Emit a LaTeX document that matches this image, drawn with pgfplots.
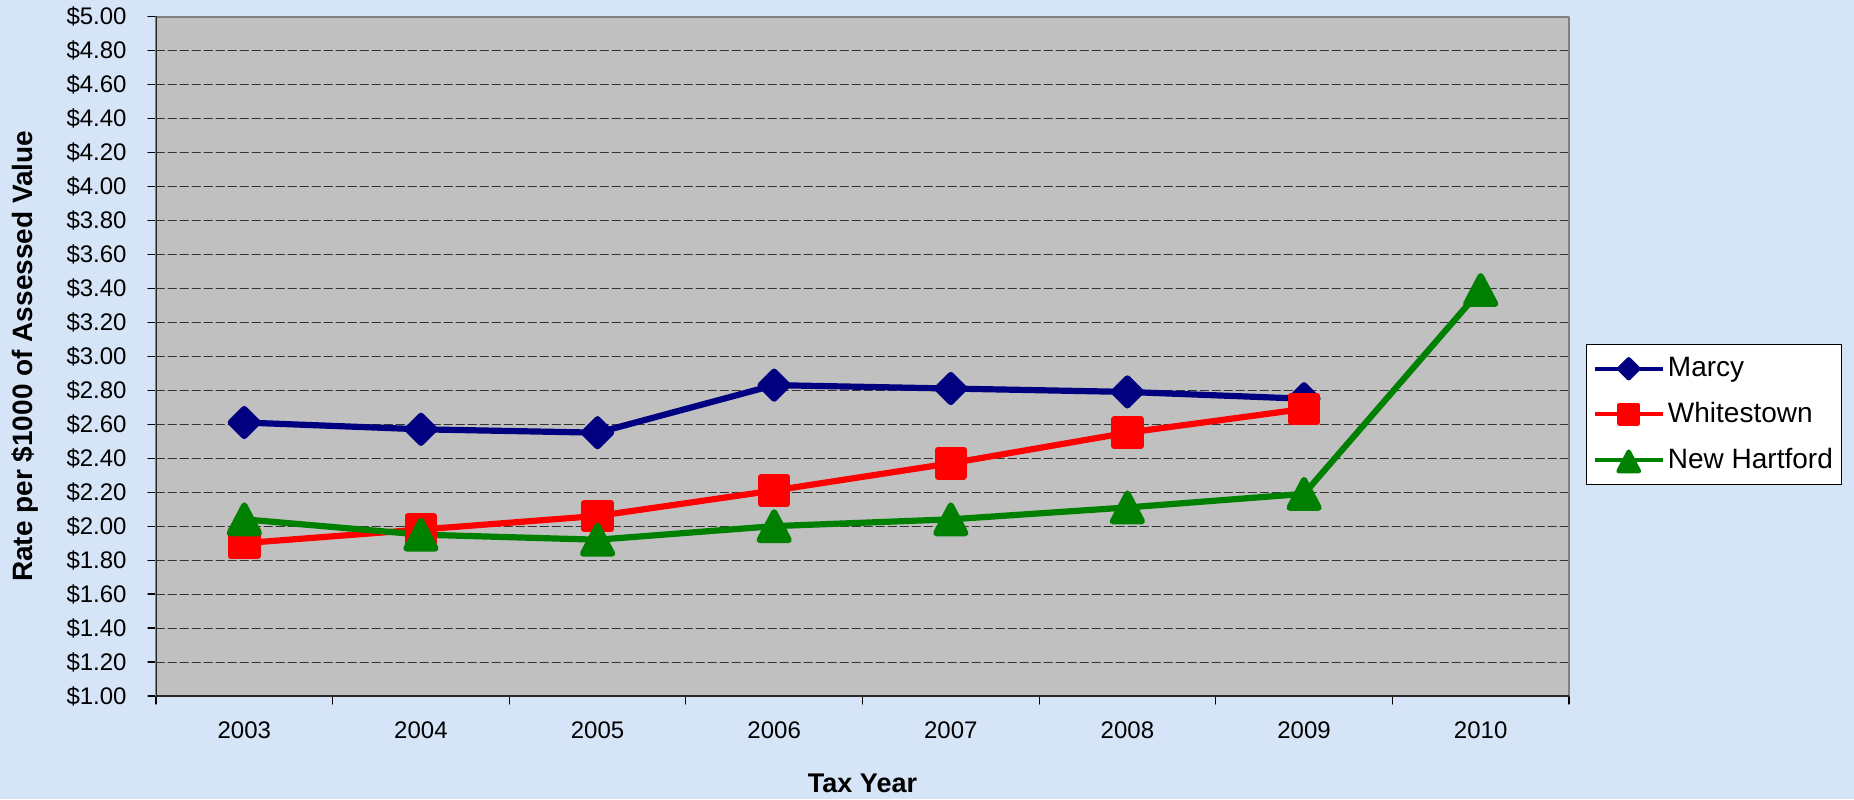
\documentclass[border=0pt]{standalone}
\usepackage{fontspec}
\setmainfont{Liberation Sans}
\usepackage{pgfplots}
\pgfplotsset{compat=1.18}
\definecolor{bgblue}{RGB}{213,229,247}
\definecolor{plotgray}{RGB}{192,192,192}
\definecolor{framegray}{RGB}{128,128,128}
\definecolor{marcy}{RGB}{0,0,128}
\definecolor{whites}{RGB}{255,0,0}
\definecolor{nhart}{RGB}{0,128,0}
\begin{document}
\begin{tikzpicture}
\useasboundingbox (0,0) rectangle (927pt,399.5pt);
\fill[bgblue] (0,0) rectangle (927pt,399.5pt);
\begin{axis}[
  at={(78pt,51.5pt)}, anchor=south west,
  scale only axis, width=706.5pt, height=339.75pt,
  xmin=-0.5, xmax=7.5, ymin=1, ymax=5,
  axis background/.style={fill=plotgray},
  axis line style={draw=framegray, line width=1pt},
  tick align=outside, tick pos=left,
  major tick length=4pt, minor tick length=4pt,
  xtick={0,1,2,3,4,5,6,7},
  xticklabels={2003,2004,2005,2006,2007,2008,2009,2010},
  major x tick style={draw=none},
  minor xtick={-0.5,0.5,1.5,2.5,3.5,4.5,5.5,6.5,7.5},
  minor x tick style={draw=black, line width=0.6pt},
  ytick={1,1.2,1.4,1.6,1.8,2,2.2,2.4,2.6,2.8,3,3.2,3.4,3.6,3.8,4,4.2,4.4,4.6,4.8,5},
  yticklabels={\$1.00,\$1.20,\$1.40,\$1.60,\$1.80,\$2.00,\$2.20,\$2.40,\$2.60,\$2.80,\$3.00,\$3.20,\$3.40,\$3.60,\$3.80,\$4.00,\$4.20,\$4.40,\$4.60,\$4.80,\$5.00},
  major y tick style={draw=black, line width=0.6pt},
  ymajorgrids,
  major grid style={draw=black!80, line width=0.5pt, dash pattern=on 4.2pt off 1.8pt},
  tick label style={font=\fontsize{12}{14}\selectfont},
  yticklabel style={anchor=east, inner sep=0pt, xshift=-10.5pt},
  xticklabel style={anchor=center, inner sep=0pt, yshift=-13pt},
  xlabel={Tax Year},
  ylabel={Rate per \$1000 of Assessed Value},
  xlabel style={font=\bfseries\fontsize{13.5}{16}\selectfont, at={(axis description cs:0.5,-0.128)}, anchor=center},
  ylabel style={font=\bfseries\fontsize{14}{16}\selectfont, at={(axis description cs:-0.0927,0.5)}, anchor=center},
  legend style={at={(1.012,0.518)}, anchor=north west, draw=black, fill=white,
    line width=0.6pt, font=\fontsize{14}{16}\selectfont,
    inner xsep=3pt, inner ysep=5pt, row sep=8.3pt,
    nodes={inner sep=1.5pt}},
  legend cell align=left,
  legend image code/.code={%
    \draw[mark repeat=2, mark phase=2, #1, line width=2.2pt, every mark/.append style={scale=0.7}]
      plot coordinates {(0pt,0pt) (17pt,0pt) (34pt,0pt)};},
  line join=round, line cap=round,
]
\addplot[marcy, line width=3.1pt, mark=square*, mark size=4.77pt,
  mark options={rotate=45, draw=none, fill=marcy}]
  coordinates {(0,2.61) (1,2.57) (2,2.55) (3,2.83) (4,2.81) (5,2.79) (6,2.75)};
\addlegendentry{Marcy}
\addplot[whites, line width=3.1pt, mark=square*, mark size=6.6pt,
  mark options={draw=none, fill=whites}]
  coordinates {(0,1.90) (1,1.98) (2,2.06) (3,2.21) (4,2.37) (5,2.55) (6,2.69)};
\addlegendentry{Whitestown}
\addplot[nhart, line width=3.1pt, mark=triangle*, mark size=8.4pt,
  mark options={draw=none, fill=nhart, yshift=-2.3pt, yscale=1.1}]
  coordinates {(0,2.04) (1,1.95) (2,1.92) (3,2.00) (4,2.04) (5,2.11) (6,2.19) (7,3.39)};
\addlegendentry{New Hartford}
\draw[black!85, line width=1.2pt] (rel axis cs:0,1) -- (rel axis cs:0,0) -- (rel axis cs:1,0);
\end{axis}
\end{tikzpicture}
\end{document}
